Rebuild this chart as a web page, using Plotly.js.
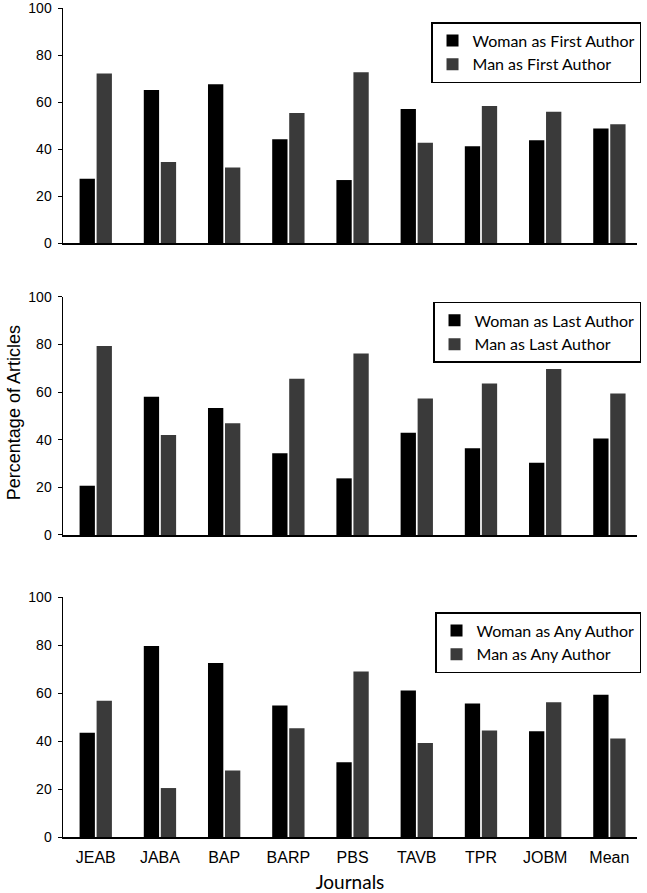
<!DOCTYPE html>
<html>
<head>
<meta charset="utf-8">
<script src="https://cdn.plot.ly/plotly-3.0.1.min.js"></script>
<style>html,body{margin:0;padding:0;background:#fff;}#chart{width:647px;height:893px;}</style>
</head>
<body>
<div id="chart"></div>
<script>
const journals = ["JEAB","JABA","BAP","BARP","PBS","TAVB","TPR","JOBM","Mean"];
const womanFirst = [27.4,65.1,67.6,44.2,26.8,57.0,41.2,43.7,48.7];
const manFirst   = [72.1,34.5,32.1,55.3,72.7,42.7,58.3,55.9,50.5];
const womanLast  = [20.7,58.1,53.4,34.3,23.8,43.0,36.4,30.4,40.5];
const manLast    = [79.4,42.0,46.9,65.7,76.3,57.3,63.7,69.7,59.5];
const womanAny   = [43.4,79.6,72.5,54.8,31.1,61.0,55.6,44.1,59.3];
const manAny     = [56.8,20.4,27.7,45.3,69.0,39.2,44.4,56.1,41.0];
const yTicks = [0,20,40,60,80,100];

const BLACK = "#000000", GRAY = "#3a3a3a";
function bar(y, name, color, xa, ya, lg){
  return {type:"bar", x:journals, y:y, name:name, xaxis:xa, yaxis:ya, legend:lg,
    marker:{color:color, line:{width:0}}, hoverinfo:"x+y"};
}
const data = [
  bar(womanFirst,"Woman as First Author",BLACK,"x","y","legend"),
  bar(manFirst,"Man as First Author",GRAY,"x","y","legend"),
  bar(womanLast,"Woman as Last Author",BLACK,"x2","y2","legend2"),
  bar(manLast,"Man as Last Author",GRAY,"x2","y2","legend2"),
  bar(womanAny,"Woman as Any Author",BLACK,"x3","y3","legend3"),
  bar(manAny,"Man as Any Author",GRAY,"x3","y3","legend3")
];

function xax(anchor, showLabels){
  return {anchor:anchor, type:"category", range:[-0.51,8.43], showline:true, linecolor:"#000", linewidth:2,
    ticks:"", showticklabels:showLabels, showgrid:false, zeroline:false, ticklabelstandoff:5,
    tickfont:{family:"Liberation Sans, Arial", size:16, color:"#000"}, fixedrange:true};
}
function yax(anchor, domain){
  return {anchor:anchor, domain:domain, range:[0,100], tickvals:yTicks, ticktext:yTicks.map(String),
    showline:true, linecolor:"#000", linewidth:1.5, ticks:"outside", ticklen:4, tickcolor:"#000", tickwidth:1,
    ticklabeloverflow:"allow", ticklabelstandoff:3,
    showgrid:false, zeroline:false, tickfont:{family:"Liberation Sans, Arial", size:14, color:"#000"}, fixedrange:true};
}
const legFont = {family:"Lato, Open Sans", size:16, color:"#000"};
function leg(y){
  return {x:1.007, y:y, xanchor:"right", yanchor:"top", bgcolor:"#fff", bordercolor:"#000", borderwidth:1.5,
    font:legFont, itemwidth:30, tracegroupgap:0};
}

const layout = {
  width:647, height:893,
  margin:{l:63, r:6, t:8, b:56},
  paper_bgcolor:"#fff", plot_bgcolor:"#fff",
  barmode:"group", bargap:0.47, bargroupgap:0.1,
  showlegend:true,
  xaxis: xax("y", false),
  xaxis2: xax("y2", false),
  xaxis3: Object.assign(xax("y3", true), {title:{text:"Journals", font:{family:"Lato, Open Sans", size:19, color:"#000"}, standoff:12}}),
  yaxis: yax("x", [0.7165,1]),
  yaxis2: yax("x2", [0.3643,0.6514]),
  yaxis3: yax("x3", [0,0.2895]),
  legend: leg(0.9831),
  legend2: leg(0.6454),
  legend3: leg(0.2714),
  annotations:[{text:"Percentage of Articles", xref:"paper", yref:"paper", x:-0.085, y:0.5115,
    xanchor:"center", yanchor:"middle", textangle:-90, showarrow:false,
    font:{family:"Liberation Sans, Arial", size:18, color:"#000"}}]
};
Plotly.newPlot("chart", data, layout, {displayModeBar:false, staticPlot:true});
</script>
</body>
</html>
